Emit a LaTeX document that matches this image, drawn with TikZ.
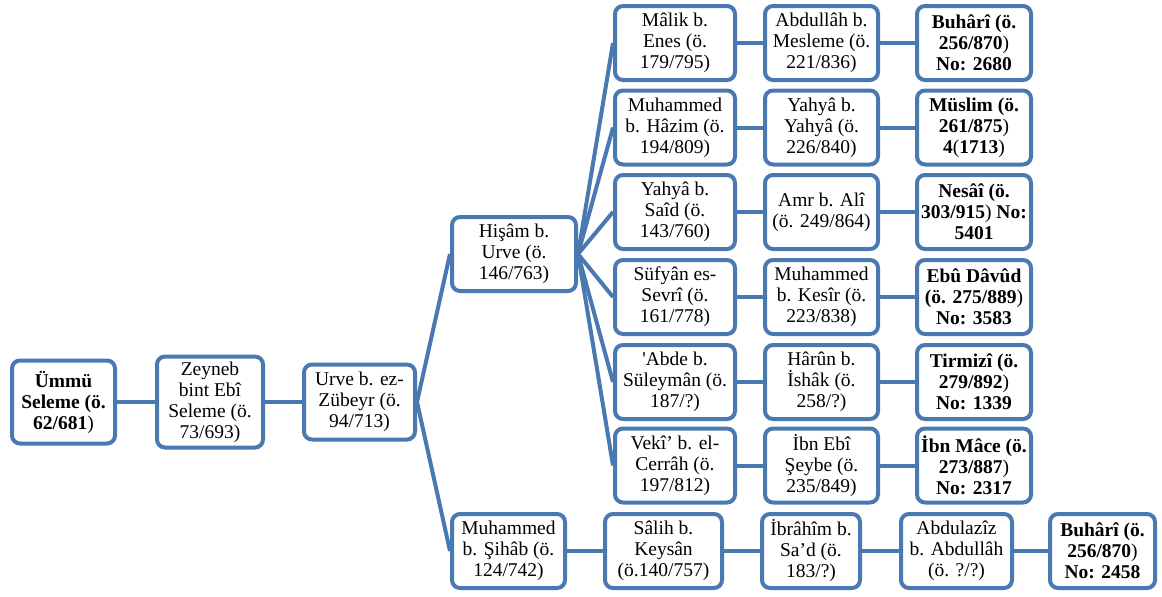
\documentclass[tikz,border=0pt]{standalone}
\usepackage{fontspec}
\setmainfont{Liberation Serif}[Ligatures=TeXOff]
\usepackage{xcolor}
\usepackage{tikz}
\usetikzlibrary{positioning}
\definecolor{frame}{HTML}{4A78B0}

\begin{document}
\begin{tikzpicture}[x=1pt,y=-1pt,
  box/.style={draw=frame,line width=4pt,rounded corners=8pt,fill=white,align=center,
              inner sep=1pt,minimum width=116pt,minimum height=74pt,
              font=\fontsize{19.5}{21}\selectfont},
  link/.style={draw=frame,line width=4pt},
]
  \useasboundingbox (0,0) rectangle (1162,597);
  % chain on the left
  \node[box,minimum width=103pt,minimum height=83pt] (umm) at (63.5,402)
    {\textbf{Ümmü}\\\textbf{Seleme (ö.}\\\textbf{62/681})};
  \node[box,minimum width=106pt,minimum height=91pt] (zey) at (210,402)
    {Zeyneb\\bint Ebî\\Seleme (ö.\\73/693)};
  \node[box,minimum width=111pt,minimum height=75pt] (urv) at (359.5,402)
    {Urve b. ez-\\Zübeyr (ö.\\94/713)};
  \node[box,minimum width=124pt] (his) at (514,254)
    {Hişâm b.\\Urve (ö.\\146/763)};
  \node[box,minimum width=113pt] (sih) at (508.5,551)
    {Muhammed\\b. Şihâb (ö.\\124/742)};
  % six lines from Hisam
  \node[box,minimum width=120pt] (mal) at (675,43)    {Mâlik b.\\Enes (ö.\\179/795)};
  \node[box,minimum width=120pt] (haz) at (675,127.5) {Muhammed\\b. Hâzim (ö.\\194/809)};
  \node[box,minimum width=120pt] (sai) at (675,212)   {Yahyâ b.\\Saîd (ö.\\143/760)};
  \node[box,minimum width=120pt] (suf) at (675,297)   {Süfyân es-\\Sevrî (ö.\\161/778)};
  \node[box,minimum width=120pt] (abd) at (675,382)   {'Abde b.\\Süleymân (ö.\\187/?)};
  \node[box,minimum width=120pt] (vek) at (675,465.5) {Vekî’ b. el-\\Cerrâh (ö.\\197/812)};
  \node[box,minimum width=113pt] (mes) at (821.5,43)    {Abdullâh b.\\Mesleme (ö.\\221/836)};
  \node[box,minimum width=113pt] (yah) at (821.5,127.5) {Yahyâ b.\\Yahyâ (ö.\\226/840)};
  \node[box,minimum width=113pt] (amr) at (821.5,212)   {Amr b. Alî\\(ö. 249/864)};
  \node[box,minimum width=113pt] (kes) at (821.5,297)   {Muhammed\\b. Kesîr (ö.\\223/838)};
  \node[box,minimum width=113pt] (har) at (821.5,382)   {Hârûn b.\\İshâk (ö.\\258/?)};
  \node[box,minimum width=113pt] (sey) at (821.5,465.5) {İbn Ebî\\Şeybe (ö.\\235/849)};
  \node[box,minimum width=114pt] (buh) at (974,43)
    {\textbf{Buhârî (ö.}\\\textbf{256/870})\\\textbf{No: 2680}};
  \node[box,minimum width=114pt] (mus) at (974,127.5)
    {\textbf{Müslim (ö.}\\\textbf{261/875})\\\textbf{4}(\textbf{1713})};
  \node[box,minimum width=114pt] (nes) at (974,212)
    {\textbf{Nesâî (ö.}\\\textbf{303/915}) \textbf{No:}\\\textbf{5401}};
  \node[box,minimum width=114pt] (ebu) at (974,297)
    {\textbf{Ebû Dâvûd}\\\textbf{(ö. 275/889})\\\textbf{No: 3583}};
  \node[box,minimum width=114pt] (tir) at (974,382)
    {\textbf{Tirmizî (ö.}\\\textbf{279/892})\\\textbf{No: 1339}};
  \node[box,minimum width=114pt] (ibm) at (974,465.5)
    {\textbf{İbn Mâce (ö.}\\\textbf{273/887})\\\textbf{No: 2317}};
  % bottom line
  \node[box,minimum width=117pt] (sal) at (663.5,551)  {Sâlih b.\\Keysân\\(ö.140/757)};
  \node[box,minimum width=98pt]  (ibr) at (811,551)    {İbrâhîm b.\\Sa’d (ö.\\183/?)};
  \node[box,minimum width=111pt] (abz) at (956.5,551)  {Abdulazîz\\b. Abdullâh\\(ö. ?/?)};
  \node[box,minimum width=105pt] (bu2) at (1102.5,551)
    {\textbf{Buhârî (ö.}\\\textbf{256/870})\\\textbf{No: 2458}};

  \draw[link] (umm.east) -- (zey.west);
  \draw[link] (zey.east) -- (urv.west);
  \draw[link] (urv.east) -- (his.west);
  \draw[link] (urv.east) -- (sih.west);
  \foreach \a/\b/\c in {mal/mes/buh,haz/yah/mus,sai/amr/nes,suf/kes/ebu,abd/har/tir,vek/sey/ibm}{
    \draw[link] (his.east) -- (\a.west);
    \draw[link] (\a.east) -- (\b.west);
    \draw[link] (\b.east) -- (\c.west);
  }
  \draw[link] (sih.east) -- (sal.west);
  \draw[link] (sal.east) -- (ibr.west);
  \draw[link] (ibr.east) -- (abz.west);
  \draw[link] (abz.east) -- (bu2.west);
\end{tikzpicture}
\end{document}
